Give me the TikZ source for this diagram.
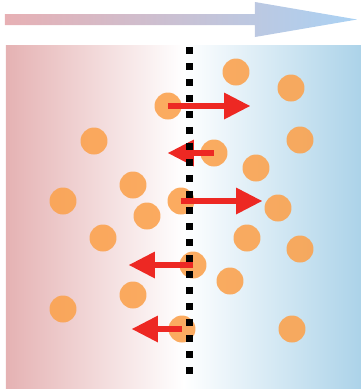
\documentclass[tikz,border=0pt]{standalone}
\usetikzlibrary{arrows.meta}
\definecolor{warm}{RGB}{229,178,179}
\definecolor{cold}{RGB}{172,211,233}
\definecolor{warmarrow}{RGB}{231,176,180}
\definecolor{coldarrow}{RGB}{170,210,244}
\definecolor{ion}{RGB}{251,163,80}
\definecolor{fluxred}{RGB}{237,40,35}
\tikzstyle{particle}=[circle, fill=ion, fill opacity=0.9, minimum size=0.54cm, inner sep=0pt]
\tikzstyle{flux}=[-{Triangle[length=0.52cm,width=0.54cm,line width=0pt]}, draw=fluxred, fill=fluxred, line width=0.12cm]
\begin{document}
\begin{tikzpicture}[x=0.02cm, y=-0.02cm]
  \useasboundingbox (0,0) rectangle (361,390);
  % gradient box and direction arrow
  \shade[left color=warm, right color=cold, middle color=white] (6,45) rectangle (361,388);
  \shade[left color=warmarrow, right color=coldarrow]
    (5,14) -- (255,14) -- (255,2) -- (357,19.5) -- (255,37) -- (255,25) -- (5,25) -- cycle;
  % particles
  \foreach \n/\x/\y in {1/236/72, 2/291/88, 3/168/106, 4/94/141, 5/300/140, 6/214/153,
      7/256/168, 8/133/185, 9/63/201, 10/181/201, 11/278/208, 12/147/216, 13/103/238,
      14/247/238, 15/300/249, 16/193/265, 17/230/281, 18/133/295, 19/63/309,
      20/182/329, 21/292/329}
    \node[particle] (p\n) at (\x,\y) {};
  % fluxes
  \coordinate (t1) at (250,106);
  \coordinate (t2) at (168,153);
  \coordinate (t3) at (262,201);
  \coordinate (t4) at (129,265);
  \coordinate (t5) at (132,329);
  \draw[flux] (p3.center) -- (t1);
  \draw[flux] (p6.center) -- (t2);
  \draw[flux] (p10.center) -- (t3);
  \draw[flux] (p16.center) -- (t4);
  \draw[flux] (p20.center) -- (t5);
  % membrane
  \draw[line width=0.14cm, dash pattern=on 0.14cm off 0.18cm] (190,47) -- (190,374);
\end{tikzpicture}
\end{document}
